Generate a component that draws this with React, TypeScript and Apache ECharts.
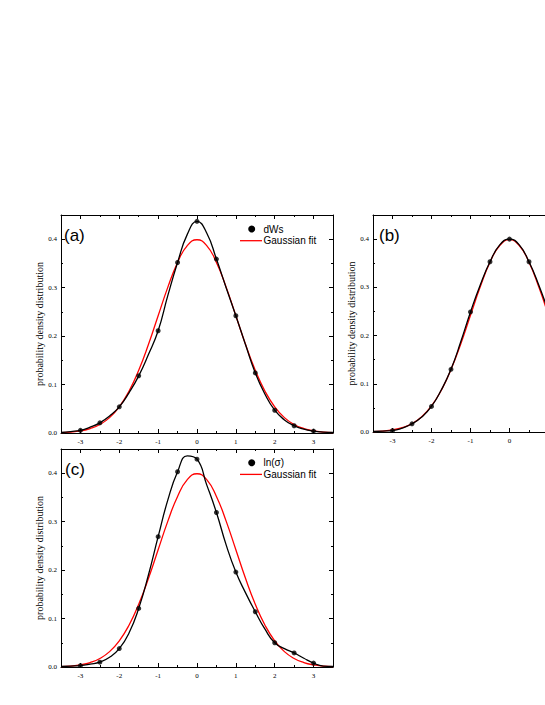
import React, { useEffect, useRef } from "react";
import * as echarts from "echarts";

// x positions of the smooth curves
const CURVE_X = [
  -3.5, -3.25, -3, -2.75, -2.5, -2.25, -2, -1.75, -1.5, -1.25, -1, -0.75, -0.5, -0.25,
  0, 0.25, 0.5, 0.75, 1, 1.25, 1.5, 1.75, 2, 2.25, 2.5, 2.75, 3, 3.25, 3.5,
];
// x positions of the measured points
const POINT_X = [-3, -2.5, -2, -1.5, -1, -0.5, 0, 0.5, 1, 1.5, 2, 2.5, 3];

// x tick labels (panel b is cut off by the page edge after 0)
const X_LABELS = [-3, -2, -1, 0, 1, 2, 3];
const X_LABELS_B = [-3, -2, -1, 0];

// red Gaussian fit
const GAUSS_FIT = [
  0.0009, 0.002, 0.0044, 0.0091, 0.0175, 0.0317, 0.054, 0.0863, 0.1295, 0.1826, 0.242, 0.3011, 0.3521, 0.3867,
  0.3989, 0.3867, 0.3521, 0.3011, 0.242, 0.1826, 0.1295, 0.0863, 0.054, 0.0317, 0.0175, 0.0091, 0.0044, 0.002, 0.0009,
];

// panel (a): dWs
const A_CURVE = [
  0.001, 0.003, 0.0055, 0.012, 0.021, 0.035, 0.054, 0.083, 0.118, 0.162, 0.211, 0.284, 0.352, 0.41,
  0.437, 0.413, 0.359, 0.3, 0.242, 0.182, 0.124, 0.08, 0.047, 0.027, 0.015, 0.008, 0.004, 0.002, 0.001,
];
const A_POINTS = [0.0055, 0.021, 0.054, 0.118, 0.211, 0.352, 0.437, 0.359, 0.242, 0.124, 0.047, 0.015, 0.004];

// panel (b)
const B_CURVE = [
  0.001, 0.002, 0.003, 0.008, 0.017, 0.031, 0.053, 0.087, 0.13, 0.187, 0.249, 0.305, 0.353, 0.388,
  0.4, 0.388, 0.353, 0.305, 0.249, 0.187, 0.13, 0.087, 0.053, 0.031, 0.017, 0.008, 0.003, 0.002, 0.001,
];
const B_POINTS = [0.003, 0.017, 0.053, 0.13, 0.249, 0.353, 0.4, 0.353, 0.249, 0.13, 0.053, 0.017, 0.003];

// panel (c): ln(σ)
const C_CURVE = [
  0.001, 0.002, 0.003, 0.006, 0.01, 0.02, 0.038, 0.07, 0.121, 0.19, 0.269, 0.345, 0.403, 0.436,
  0.429, 0.376, 0.319, 0.252, 0.196, 0.153, 0.114, 0.078, 0.05, 0.038, 0.029, 0.018, 0.008, 0.002, 0.001,
];
const C_POINTS = [0.003, 0.01, 0.038, 0.121, 0.269, 0.403, 0.429, 0.319, 0.196, 0.114, 0.05, 0.029, 0.008];

const Y_NAME = "probability density distribution";
const PANEL_LABELS = ["(a)", "(b)", "(c)"];
const LEGEND_A = ["dWs", "Gaussian fit"];
const LEGEND_C = ["ln(σ)", "Gaussian fit"];

const SERIF = "'Liberation Serif', 'Times New Roman', serif";
const SANS = "'Liberation Sans', Arial, sans-serif";

const GRIDS = [
  { left: 61, top: 215, width: 272, height: 218 },
  { left: 373, top: 215, width: 273, height: 217 },
  { left: 61, top: 449, width: 272, height: 218 },
];

function pair(xs: number[], ys: number[]) {
  return xs.map((x, i) => [x, ys[i]]);
}

export default function App() {
  const ref = useRef<HTMLDivElement>(null);
  useEffect(() => {
    if (!ref.current) return;
    const chart = echarts.init(ref.current, null, { renderer: "svg" });

    const xAxis: any[] = [];
    const yAxis: any[] = [];
    GRIDS.forEach((_, gi) => {
      const line = { show: true, onZero: false, lineStyle: { color: "#000", width: 1 } };
      // x: ticks every 1 from -3.5 give the short half-unit ticks; minor ticks give the long integer ticks
      const xBase = {
        type: "value",
        gridIndex: gi,
        min: -3.5,
        max: 3.5,
        interval: 1,
        axisLine: line,
        axisTick: { show: true, inside: true, length: 2, lineStyle: { color: "#000" } },
        minorTick: { show: true, splitNumber: 2, length: 4, lineStyle: { color: "#000" } },
        splitLine: { show: false },
        minorSplitLine: { show: false },
      };
      const yBase = {
        type: "value",
        gridIndex: gi,
        min: 0,
        max: 0.45,
        interval: 0.1,
        axisLine: line,
        axisTick: { show: true, inside: true, length: 4, lineStyle: { color: "#000" } },
        minorTick: { show: true, splitNumber: 2, length: 2, lineStyle: { color: "#000" } },
        splitLine: { show: false },
        minorSplitLine: { show: false },
      };
      xAxis.push({
        ...xBase,
        position: "bottom",
        axisLabel: {
          customValues: gi === 1 ? X_LABELS_B : X_LABELS,
          fontFamily: SERIF,
          fontSize: 7,
          color: "#000",
          margin: 5,
          formatter: (v: number) => String(Math.round(v)),
        },
      });
      xAxis.push({ ...xBase, position: "top", axisLabel: { show: false } });
      yAxis.push({
        ...yBase,
        position: "left",
        name: Y_NAME,
        nameLocation: "middle",
        nameGap: 13,
        nameRotate: 90,
        nameTextStyle: { fontFamily: SERIF, fontSize: 10, color: "#000" },
        axisLabel: {
          fontFamily: SERIF,
          fontSize: 7,
          color: "#000",
          margin: 4,
          formatter: (v: number) => (Math.abs(v * 10 - Math.round(v * 10)) < 1e-6 ? v.toFixed(1) : ""),
        },
      });
      yAxis.push({ ...yBase, position: "right", axisLabel: { show: false } });
    });

    const curves = [A_CURVE, B_CURVE, C_CURVE];
    const points = [A_POINTS, B_POINTS, C_POINTS];
    const series: any[] = [];
    GRIDS.forEach((_, gi) => {
      series.push({
        type: "line",
        xAxisIndex: gi * 2,
        yAxisIndex: gi * 2,
        data: pair(CURVE_X, GAUSS_FIT),
        smooth: true,
        showSymbol: false,
        lineStyle: { color: "#ff0000", width: 1.3 },
        z: 2,
      });
      series.push({
        type: "line",
        xAxisIndex: gi * 2,
        yAxisIndex: gi * 2,
        data: pair(CURVE_X, curves[gi]),
        smooth: true,
        showSymbol: false,
        lineStyle: { color: "#000", width: 1.3 },
        z: 3,
      });
      series.push({
        type: "scatter",
        xAxisIndex: gi * 2,
        yAxisIndex: gi * 2,
        data: pair(POINT_X, points[gi]),
        symbol: "circle",
        symbolSize: 5,
        itemStyle: { color: "#000" },
        z: 4,
      });
    });

    const labelPos = [
      [64, 235],
      [379, 235],
      [65, 469],
    ];
    const graphic: any[] = PANEL_LABELS.map((t, i) => ({
      type: "text",
      x: labelPos[i][0],
      y: labelPos[i][1],
      style: { text: t, fontFamily: SANS, fontSize: 17, fill: "#000", textVerticalAlign: "middle" },
      z: 10,
    }));
    const legend = (names: string[], y0: number) => [
      { type: "circle", shape: { cx: 251.7, cy: y0, r: 3.5 }, style: { fill: "#000" }, z: 10 },
      {
        type: "text",
        x: 263.5,
        y: y0,
        style: { text: names[0], fontFamily: SANS, fontSize: 10, fill: "#000", textVerticalAlign: "middle" },
        z: 10,
      },
      {
        type: "line",
        shape: { x1: 240, y1: y0 + 11.7, x2: 262, y2: y0 + 11.7 },
        style: { stroke: "#ff0000", lineWidth: 1.3 },
        z: 10,
      },
      {
        type: "text",
        x: 263.5,
        y: y0 + 11.7,
        style: { text: names[1], fontFamily: SANS, fontSize: 10, fill: "#000", textVerticalAlign: "middle" },
        z: 10,
      },
    ];
    graphic.push(...legend(LEGEND_A, 229), ...legend(LEGEND_C, 462.7));

    chart.setOption({
      animation: false,
      backgroundColor: "#fff",
      grid: GRIDS.map((g) => ({ ...g, containLabel: false })),
      xAxis,
      yAxis,
      series,
      graphic,
    });
    return () => chart.dispose();
  }, []);

  return (
    <div style={{ position: "absolute", left: 0, top: 0, width: 545, height: 705, overflow: "hidden", background: "#fff" }}>
      <div ref={ref} style={{ width: 700, height: 705 }} />
    </div>
  );
}
